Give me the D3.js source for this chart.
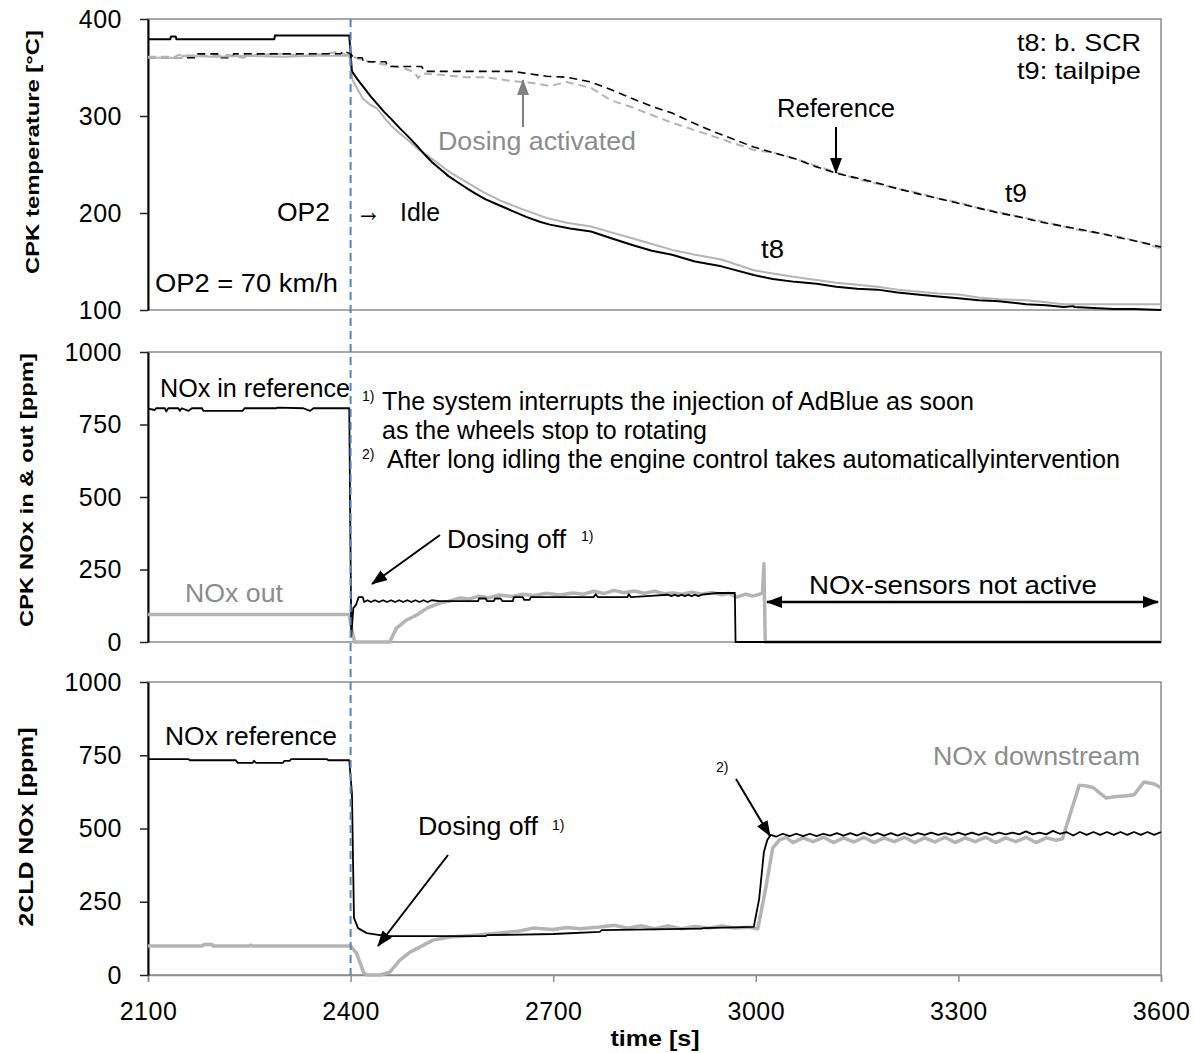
<!DOCTYPE html>
<html>
<head>
<meta charset="utf-8">
<script src="https://cdnjs.cloudflare.com/ajax/libs/d3/7.8.5/d3.min.js"></script>
<style>
body { margin: 0; background: #fff; }
text { font-family: "Liberation Sans", Arial, sans-serif; }
</style>
</head>
<body>
<div id="vis-container"></div>
<script>
//width and height
var w = 1194;
var h = 1053;

// ticks
var xTicks = [2100, 2400, 2700, 3000, 3300, 3600];
var tempTicks = [100, 200, 300, 400];
var noxTicks = [0, 250, 500, 750, 1000];

// panel 1: CPK temperature [°C]  -> [time, value]
var t8Ref = [[2100,379],[2133,379],[2134,382],[2141,382],[2142,379],[2287,379],[2288,383],[2398,383],[2402,346],[2410,338],
  [2420,329],[2430,320],[2440,312],[2450,304],[2460,297],[2472,288],[2485,279],[2500,268],[2510,260],[2521,252],[2533,245],
  [2545,238],[2558,232],[2571,226],[2585,220],[2600,214],[2620,208],[2640,202],[2660,196],[2680,191],[2695,188],[2725,184],
  [2756,181],[2786,174],[2817,167],[2846,161],[2876,157],[2910,150],[2949,145],[2997,136],[3025,132],[3058,129],[3090,127],
  [3119,124],[3150,122],[3180,121],[3210,118],[3239,116],[3270,114],[3300,112],[3330,110],[3360,109],[3400,106],[3430,105],
  [3456,103],[3470,104],[3472,103],[3500,102],[3530,101],[3560,101],[3600,100]];
var t8Dos = [[2100,360],[2150,360],[2152,362],[2200,361],[2250,362],[2300,361],[2350,362],[2398,362],[2403,337],[2410,328],
  [2418,318],[2428,312],[2439,308],[2450,298],[2460,290],[2473,282],[2485,275],[2498,267],[2510,261],[2522,255],[2545,243],
  [2571,232],[2595,222],[2621,213],[2650,205],[2690,195],[2720,190],[2756,186],[2786,180],[2817,174],[2846,168],[2876,162],
  [2910,157],[2949,152],[2997,141],[3030,137],[3058,134],[3090,131],[3119,128],[3150,126],[3180,124],[3210,121],[3239,119],
  [3270,117],[3300,116],[3330,113],[3360,111],[3400,110],[3430,108],[3456,106],[3500,106],[3600,106]];
var t9Ref = [[2100,360],[2170,360],[2172,364],[2205,364],[2207,360],[2225,360],[2227,364],[2385,364],[2390,367],[2400,364],
  [2405,360],[2417,360],[2419,356],[2452,356],[2455,351],[2505,351],[2510,346],[2640,346],[2690,341],[2720,340],[2756,335],
  [2786,327],[2817,318],[2846,310],[2876,303],[2907,293],[2937,284],[2967,276],[2997,268],[3027,262],[3058,256],[3088,248],
  [3119,241],[3150,236],[3180,231],[3210,225],[3239,220],[3270,215],[3300,210],[3330,205],[3360,200],[3390,196],[3420,191],
  [3450,187],[3481,183],[3510,179],[3542,174],[3570,170],[3600,165]];
var t9Dos = [[2100,361],[2140,361],[2145,363],[2180,362],[2220,363],[2240,360],[2260,363],[2300,364],[2330,362],[2360,364],
  [2380,366],[2395,363],[2400,362],[2420,357],[2450,353],[2480,349],[2495,345],[2500,339],[2506,344],[2540,342],[2570,340],
  [2600,340],[2640,336],[2670,334],[2695,331],[2720,335],[2756,329],[2786,316],[2817,309],[2846,301],[2876,293],[2907,286],
  [2937,279],[2967,272],[2997,265],[3027,262],[3058,256],[3088,249],[3119,242],[3150,235],[3180,230],[3210,225],[3239,221],
  [3270,215],[3300,211],[3330,205],[3360,201],[3390,196],[3420,192],[3450,187],[3481,182],[3510,179],[3542,175],[3570,170],
  [3600,163]];

// panel 2: CPK NOx in & out [ppm]
var cpkIn = [[2100,805],[2110,800],[2112,806],[2125,806],[2127,795],[2130,806],[2145,806],[2147,797],[2150,806],[2160,797],
  [2165,806],[2180,806],[2182,797],[2240,797],[2243,806],[2290,806],[2292,808],[2330,806],[2340,797],[2345,806],[2398,806],
  [2401,20],[2404,117],[2408,128],[2412,155],[2418,155],[2420,138],[2425,144],[2430,138],[2436,144],[2442,138],[2448,144],
  [2454,138],[2460,144],[2466,138],[2472,144],[2478,138],[2484,144],[2490,138],[2496,144],[2502,138],[2508,144],[2514,138],
  [2520,144],[2532,141],[2589,141],[2590,150],[2600,150],[2602,141],[2612,141],[2614,150],[2622,150],[2625,141],[2640,141],
  [2642,155],[2655,155],[2657,145],[2665,145],[2667,155],[2760,155],[2763,165],[2766,155],[2810,155],[2812,165],[2815,155],
  [2850,160],[2870,163],[2875,158],[2880,163],[2885,158],[2890,163],[2895,158],[2900,163],[2905,158],[2910,163],[2915,158],
  [2920,163],[2943,169],[2969,169],[2970,0],[3600,0]];
var cpkOut = [[2100,95],[2398,95],[2402,40],[2406,0],[2458,0],[2468,48],[2483,76],[2498,93],[2513,117],[2532,134],[2545,140],
  [2562,152],[2575,148],[2590,158],[2605,152],[2620,162],[2640,157],[2655,165],[2670,160],[2690,168],[2710,162],[2729,169],
  [2745,165],[2760,175],[2775,167],[2790,178],[2805,170],[2820,176],[2835,168],[2850,175],[2865,166],[2877,169],[2890,165],
  [2905,172],[2920,165],[2935,171],[2950,163],[2960,168],[2972,155],[2985,165],[2995,158],[3006,165],[3010,170],[3012,270],
  [3014,0],[3600,0]];

// panel 3: 2CLD NOx [ppm]
var cldRef = [[2100,737],[2160,737],[2162,733],[2230,733],[2233,724],[2255,724],[2257,731],[2260,724],[2300,724],[2302,731],
  [2310,731],[2312,737],[2365,737],[2367,733],[2398,733],[2402,620],[2405,195],[2411,160],[2424,143],[2453,133],[2600,133],
  [2602,136],[2700,140],[2769,147],[2772,153],[2920,158],[2922,160],[2997,164],[3005,260],[3012,420],[3017,461],[3022,478],
  [3030,472],[3040,482],[3050,474],[3060,482],[3070,474],[3080,482],[3090,474],[3100,482],[3110,476],[3120,484],[3130,476],
  [3140,484],[3150,476],[3160,486],[3170,476],[3180,484],[3190,476],[3200,484],[3210,476],[3220,484],[3230,476],[3240,484],
  [3250,478],[3260,486],[3270,478],[3280,484],[3290,478],[3300,486],[3310,478],[3320,486],[3330,478],[3340,486],[3350,478],
  [3360,486],[3370,480],[3380,486],[3390,480],[3400,490],[3410,480],[3420,486],[3430,480],[3440,492],[3450,482],[3460,488],
  [3470,476],[3480,488],[3490,478],[3500,488],[3510,478],[3520,488],[3530,478],[3540,488],[3550,478],[3560,488],[3570,478],
  [3580,488],[3590,478],[3600,488]];
var cldDown = [[2100,99],[2180,99],[2183,104],[2195,104],[2197,99],[2250,99],[2252,102],[2255,99],[2400,99],[2409,74],
  [2419,10],[2424,0],[2444,0],[2458,10],[2473,51],[2488,78],[2508,102],[2522,119],[2547,130],[2580,135],[2621,143],[2650,150],
  [2670,160],[2700,155],[2720,162],[2740,158],[2769,164],[2790,170],[2810,160],[2830,168],[2850,158],[2870,167],[2890,158],
  [2910,166],[2930,160],[2950,167],[2970,160],[2990,163],[3003,158],[3015,300],[3025,433],[3035,461],[3045,470],[3055,452],
  [3070,468],[3085,455],[3100,470],[3115,452],[3130,468],[3145,454],[3160,470],[3175,452],[3190,468],[3205,455],[3220,470],
  [3235,452],[3250,468],[3265,454],[3280,470],[3295,452],[3310,468],[3325,455],[3340,470],[3355,452],[3370,468],[3385,455],
  [3400,470],[3415,452],[3430,468],[3445,460],[3454,465],[3479,648],[3490,645],[3500,639],[3510,620],[3519,604],[3530,608],
  [3540,610],[3550,612],[3560,615],[3575,659],[3590,652],[3600,639]];

var black = "#000", grey = "#b4b4b4", greyText = "#8c8c8c", frame = "#8c8c8c";

//scale functions
var xScale = d3.scaleLinear().domain([2100, 3600]).range([148, 1161]);
var yTemp = d3.scaleLinear().domain([100, 400]).range([310, 19]);
var yIn = d3.scaleLinear().domain([0, 1000]).range([642, 352]);
var yCld = d3.scaleLinear().domain([0, 1000]).range([975, 682]);

var svg = d3.select("#vis-container")
  .append("svg")
  .attr("width", w)
  .attr("height", h);

// arrow heads
var defs = svg.append("defs");
function marker(id, color) {
  defs.append("marker")
    .attr("id", id)
    .attr("viewBox", "0 0 16 12")
    .attr("refX", 15).attr("refY", 6)
    .attr("markerWidth", 16).attr("markerHeight", 12)
    .attr("markerUnits", "userSpaceOnUse")
    .attr("orient", "auto-start-reverse")
    .append("path")
    .attr("d", "M0,0 L16,6 L0,12 Z")
    .attr("fill", color);
}
marker("arrB", black);
marker("arrG", "#808080");

// frame + left axis of one panel
function frameFor(yScale, ticks, withX) {
  var r = yScale.range();
  svg.append("rect")
    .attr("x", 148).attr("y", r[1])
    .attr("width", 1161 - 148).attr("height", r[0] - r[1])
    .attr("fill", "none").attr("stroke", frame).attr("stroke-width", 1.5);

  if (withX) {
    var xa = svg.append("g")
      .attr("transform", "translate(0," + r[0] + ")")
      .call(d3.axisBottom(xScale).tickValues(xTicks).tickFormat(d3.format("d"))
        .tickSize(7).tickPadding(20));
    xa.select(".domain").attr("stroke", frame).attr("stroke-width", 1.5);
    xa.selectAll(".tick line").attr("stroke", frame).attr("stroke-width", 1.5);
    xa.selectAll(".tick text").attr("font-size", 25).attr("fill", black)
      .attr("font-family", "Liberation Sans, Arial").attr("letter-spacing", 0.5);
  }

  var ya = svg.append("g")
    .attr("transform", "translate(148,0)")
    .call(d3.axisLeft(yScale).tickValues(ticks).tickFormat(d3.format("d"))
      .tickSize(8).tickPadding(18).tickSizeOuter(0));
  ya.select(".domain").attr("stroke", black).attr("stroke-width", 2);
  ya.selectAll(".tick line").attr("stroke", "#222").attr("stroke-width", 1.5);
  ya.selectAll(".tick text").attr("font-size", 25).attr("fill", black)
    .attr("font-family", "Liberation Sans, Arial").attr("letter-spacing", 0.5);
}
frameFor(yTemp, tempTicks, false);
frameFor(yIn, noxTicks, false);
frameFor(yCld, noxTicks, true);

// series
function draw(data, yScale, color, width, dash) {
  var line = d3.line()
    .x(function (d) { return xScale(d[0]); })
    .y(function (d) { return yScale(d[1]); });
  svg.append("path")
    .datum(data)
    .attr("d", line)
    .attr("fill", "none")
    .attr("stroke", color)
    .attr("stroke-width", width)
    .attr("stroke-linejoin", "round")
    .attr("stroke-dasharray", dash || null);
}
draw(t9Dos, yTemp, grey, 2, "8,5");
draw(t9Ref, yTemp, black, 1.6, "8,5");
draw(t8Dos, yTemp, grey, 2);
draw(t8Ref, yTemp, black, 2);

draw(cpkOut, yIn, grey, 3.5);
draw(cpkIn, yIn, black, 1.8);

draw(cldDown, yCld, grey, 3.5);
draw(cldRef, yCld, black, 1.8);

// switch OP2 -> idle
svg.append("line")
  .attr("x1", xScale(2400)).attr("x2", xScale(2400))
  .attr("y1", 19).attr("y2", 975)
  .attr("stroke", "#4f86c6").attr("stroke-width", 2)
  .attr("stroke-dasharray", "8,5");

// texts
function label(x, y, str, size, opts) {
  opts = opts || {};
  var t = svg.append("text")
    .attr("x", x).attr("y", y)
    .attr("font-size", size)
    .attr("fill", opts.fill || black)
    .attr("font-weight", opts.bold ? "bold" : null)
    .attr("text-anchor", opts.anchor || "start")
    .text(str);
  if (opts.len) t.attr("textLength", opts.len).attr("lengthAdjust", "spacingAndGlyphs");
  if (opts.rot) t.attr("transform", "rotate(-90," + x + "," + y + ")");
  return t;
}
function arrow(x1, y1, x2, y2, id, color, both) {
  svg.append("line")
    .attr("x1", x1).attr("y1", y1).attr("x2", x2).attr("y2", y2)
    .attr("stroke", color).attr("stroke-width", both ? 2.5 : 2)
    .attr("marker-end", "url(#" + id + ")")
    .attr("marker-start", both ? "url(#" + id + ")" : null);
}

// y labels
label(39, 152, "CPK temperature [°C]", 19, {bold: true, anchor: "middle", rot: true, len: 244});
label(33, 490, "CPK NOx in & out [ppm]", 19, {bold: true, anchor: "middle", rot: true, len: 274});
label(33, 827, "2CLD NOx [ppm]", 20, {bold: true, anchor: "middle", rot: true, len: 199});
label(655, 1046, "time [s]", 22, {bold: true, anchor: "middle", len: 89});

// panel 1
label(1141, 51, "t8: b. SCR", 24, {anchor: "end", len: 124});
label(1141, 79, "t9: tailpipe", 24, {anchor: "end", len: 124});
label(777, 117, "Reference", 25, {len: 118});
arrow(836, 127, 836, 173, "arrB", black);
label(438, 150, "Dosing activated", 25, {fill: greyText, len: 198});
arrow(523, 127, 523, 80, "arrG", "#808080");
label(277, 221, "OP2", 25, {len: 53});
label(356, 221, "\u2192", 30, {len: 25});
label(400, 221, "Idle", 25, {len: 40});
label(155, 292, "OP2 = 70 km/h", 25, {len: 183});
label(761, 258, "t8", 25, {len: 23});
label(1005, 202, "t9", 25, {len: 22});

// panel 2
label(160, 397, "NOx in reference", 25, {len: 190});
label(362, 401, "1)", 14);
label(382, 410, "The system interrupts the injection of AdBlue as soon", 25, {len: 592});
label(382, 439, "as the wheels stop to rotating", 25, {len: 325});
label(362, 459, "2)", 14);
label(387, 468, "After long idling the engine control takes automaticallyintervention", 25, {len: 733});
label(447, 548, "Dosing off", 25, {len: 119});
label(581, 541, "1)", 14);
arrow(440, 535, 372, 584, "arrB", black);
label(185, 602, "NOx out", 25, {fill: greyText, len: 98});
label(809, 594, "NOx-sensors  not  active", 25, {len: 288});
arrow(767, 602, 1158, 602, "arrB", black, true);

// panel 3
label(165, 745, "NOx reference", 25, {len: 172});
label(418, 835, "Dosing off", 25, {len: 120});
label(552, 830, "1)", 14);
arrow(448, 855, 378, 946, "arrB", black);
label(716, 772, "2)", 14);
arrow(736, 779, 770, 836, "arrB", black);
label(933, 765, "NOx downstream", 25, {fill: greyText, len: 207});
</script>
</body>
</html>
